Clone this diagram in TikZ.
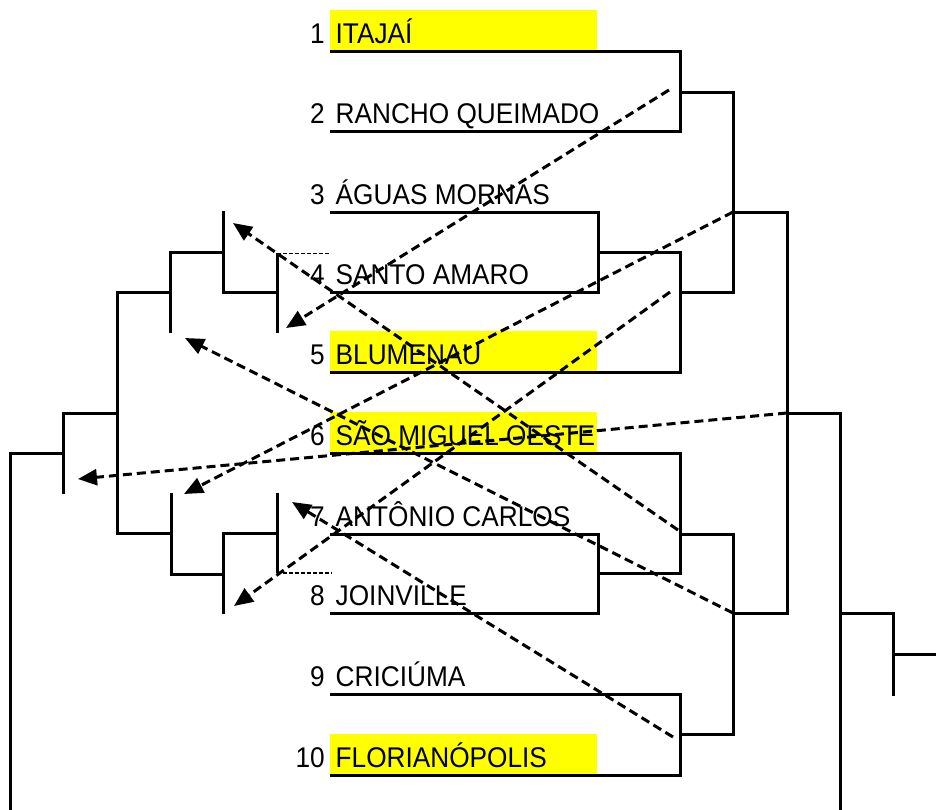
\documentclass[tikz,border=0pt]{standalone}
\usepackage{fontspec}
\newfontfamily\lab{Liberation Sans}[FakeStretch=0.92]
\usetikzlibrary{arrows.meta}
\definecolor{hlyellow}{RGB}{255,255,0}
\begin{document}
\begin{tikzpicture}[x=1pt,y=-1pt,
  bl/.style={line width=3pt, line join=miter},
  arr/.style={line width=3pt, dash pattern=on 9pt off 5pt, -{Triangle[length=19pt,width=16pt]}},
  dot/.style={line width=1.5pt, dash pattern=on 4pt off 2pt},
  txt/.style={inner sep=0pt, font=\lab\fontsize{28.5pt}{30pt}\selectfont},
  num/.style={txt, anchor=base east},
  nm/.style={txt, anchor=base west},
  hl/.style={fill=hlyellow}]
\useasboundingbox (0,0) rectangle (936,809);
% highlights
\foreach \y in {51,372,453,775} \fill[hl] (330,\y-41) rectangle (597,\y);
% team labels
\foreach \i/\y/\t in {1/51/ITAJAÍ,2/131/RANCHO QUEIMADO,3/212/ÁGUAS MORNAS,4/292/SANTO AMARO,5/372/BLUMENAU,6/453/SÃO MIGUEL OESTE,7/534/ANTÔNIO CARLOS,8/613/JOINVILLE,9/694/CRICIÚMA,10/775/FLORIANÓPOLIS}{
  \node[num] (n\i) at (325,\y-8) {\i};
  \node[nm] (t\i) at (335.5,\y-8) {\t};
}
% right brackets
\draw[bl] (330,51)--(680,51)--(680,131)--(330,131);
\draw[bl] (330,212)--(598,212)--(598,292)--(330,292);
\draw[bl] (598,252)--(680,252)--(680,372)--(330,372);
\draw[bl] (680,92)--(733,92)--(733,292)--(680,292);
\draw[bl] (733,212)--(787,212)--(787,613)--(733,613);
\draw[bl] (330,453)--(680,453)--(680,573)--(598,573);
\draw[bl] (330,534)--(598,534)--(598,613)--(330,613);
\draw[bl] (680,534)--(733,534)--(733,734)--(680,734);
\draw[bl] (330,694)--(680,694)--(680,775)--(330,775);
\draw[bl] (787,413)--(840,413)--(840,812);
\draw[bl] (840,613)--(893,613)--(893,696);
\draw[bl] (893,654)--(940,654);
% left brackets
\draw[bl] (223,211)--(223,292)--(277,292);
\draw[bl] (277,253)--(277,333);
\draw[bl] (223,252)--(170,252)--(170,333);
\draw[bl] (170,292)--(117,292)--(117,533)--(171,533);
\draw[bl] (171,493)--(171,574)--(223,574);
\draw[bl] (223,614)--(223,533)--(277,533);
\draw[bl] (277,493)--(277,573);
\draw[bl] (117,413)--(63,413)--(63,494);
\draw[bl] (63,453)--(10,453)--(10,812);
\draw[dot,line width=1pt] (277,253)--(330,253);
\draw[dot] (277,573)--(332,573);
% arrows
\coordinate (a1s) at (669,90);  \coordinate (a1e) at (286,328);
\coordinate (a2s) at (733,212); \coordinate (a2e) at (184,494);
\coordinate (a3s) at (670,292); \coordinate (a3e) at (234,606);
\coordinate (a4s) at (787,413); \coordinate (a4e) at (78,479);
\coordinate (a5s) at (733,613); \coordinate (a5e) at (185,338);
\coordinate (a6s) at (678,530); \coordinate (a6e) at (233,223);
\coordinate (a7s) at (673,737); \coordinate (a7e) at (292,502);
\foreach \k in {1,...,7} \draw[arr] (a\k s)--(a\k e);
\end{tikzpicture}
\end{document}
